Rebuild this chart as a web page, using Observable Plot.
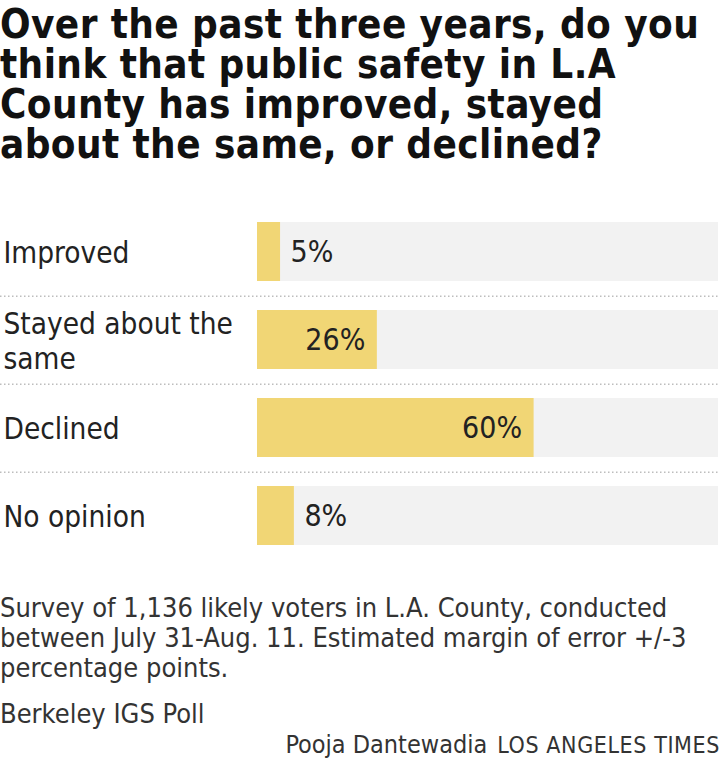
<!DOCTYPE html>
<html><head><meta charset="utf-8">
<script src="https://cdn.jsdelivr.net/npm/d3@7"></script>
<script src="https://cdn.jsdelivr.net/npm/@observablehq/plot@0.6"></script>
<style>
body{margin:0;background:#fff;}
#wrap{width:720px;position:relative;}
#title{font-family:"Liberation Sans Narrow","DejaVu Sans Condensed",sans-serif;font-weight:bold;font-size:40px;color:#111;margin:0;padding-top:4px;height:191px;box-sizing:border-box;white-space:nowrap;letter-spacing:0.4px;}
#title div{height:40px;line-height:40px;}
#chart svg{display:block;}
.foot{font-family:"Liberation Sans Narrow","DejaVu Sans Condensed",sans-serif;color:#333;font-size:27px;line-height:30px;}
#note{margin-top:18px;}
#source{margin-top:16px;}
#credit{text-align:right;margin-top:1px;font-size:25px;}
#credit .org{font-size:23px;letter-spacing:0.6px;margin-left:10px;}
</style>
</head><body>
<div id="wrap">
<div id="title"><div>Over the past three years, do you</div><div>think that public safety in L.A</div><div>County has improved, stayed</div><div>about the same, or declined?</div></div>
<div id="chart"></div>
<div class="foot" id="note">Survey of 1,136 likely voters in L.A. County, conducted between July 31-Aug. 11. Estimated margin of error +/-3 percentage points.</div>
<div class="foot" id="source">Berkeley IGS Poll</div>
<div class="foot" id="credit">Pooja Dantewadia<span class="org">LOS ANGELES TIMES</span></div>
</div>
<script>
const categories = ["Improved", "Stayed about the same", "Declined", "No opinion"];
const categoryLabels = ["Improved", "Stayed about the\nsame", "Declined", "No opinion"];
const values = [5, 26, 60, 8];
const valueLabels = ["5%", "26%", "60%", "8%"];
const totals = [100, 100, 100, 100];
const separators = ["Improved", "Stayed about the same", "Declined"];

const data = categories.map((c, i) => ({
  category: c, label: categoryLabels[i], value: values[i], text: valueLabels[i], total: totals[i]
}));

const font = '"Liberation Sans Narrow","DejaVu Sans Condensed",sans-serif';
const H = 384;
const pad = 0.33;
const step = H / (categories.length + pad);

const chart = Plot.plot({
  width: 720,
  height: H,
  marginLeft: 0, marginRight: 0, marginTop: 0, marginBottom: 0,
  style: {fontFamily: font, background: "transparent"},
  x: {domain: [0, 100], range: [257, 718], axis: null},
  y: {domain: categories, padding: pad, axis: null},
  marks: [
    Plot.ruleY(separators, {y: d => d, dy: step / 2, stroke: "#bdbdbd", strokeWidth: 1.5, strokeDasharray: "1.5,2.5"}),
    Plot.barX(data, {x: "total", y: "category", fill: "#f2f2f2"}),
    Plot.barX(data, {x: "value", y: "category", fill: "#f1d675"}),
    Plot.text(data, {y: "category", text: "label", frameAnchor: "left", textAnchor: "start", dx: 3, fontSize: 29.5, lineHeight: 1.2, fill: "#222"}),
    Plot.text(data.filter(d => d.value >= 20), {x: "value", y: "category", text: "text", textAnchor: "end", dx: -12, fontSize: 30, fill: "#222"}),
    Plot.text(data.filter(d => d.value < 20), {x: "value", y: "category", text: "text", textAnchor: "start", dx: 10, fontSize: 30, fill: "#222"})
  ]
});
document.getElementById("chart").appendChild(chart);
</script>
</body></html>
